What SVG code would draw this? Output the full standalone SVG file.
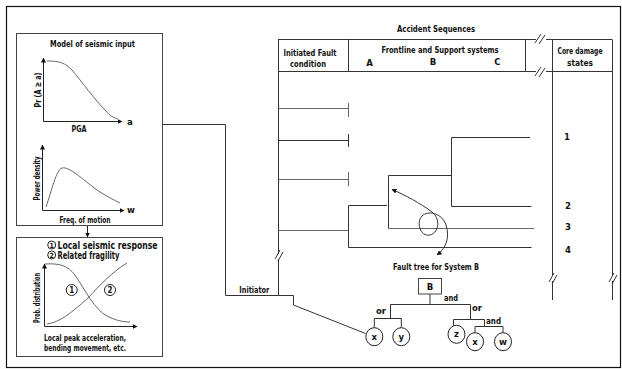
<svg xmlns="http://www.w3.org/2000/svg" width="622" height="369" viewBox="0 0 622 369">
<defs>
<marker id="ah" viewBox="0 0 10 10" refX="9" refY="5" markerWidth="5" markerHeight="5" orient="auto-start-reverse" markerUnits="userSpaceOnUse">
<path d="M0,0 L10,5 L0,10 z" fill="#111"/>
</marker>
<style>
.t{font-family:"Liberation Sans Narrow","DejaVu Sans Condensed","Liberation Sans",sans-serif;font-weight:bold;font-size:9.5px;fill:#111}
.m{text-anchor:middle}
.ln{fill:none;stroke:#333;stroke-width:1}
.lg{fill:none;stroke:#666;stroke-width:1}
.bx{fill:#fff;stroke:#444;stroke-width:1}
.cr{fill:#fff;stroke:#222;stroke-width:1}
.ax{fill:none;stroke:#222;stroke-width:1}
</style>
</defs>
<rect x="0" y="0" width="622" height="369" fill="#fff"/>
<rect x="6.5" y="6.5" width="614" height="361" fill="none" stroke="#111" stroke-width="1.2"/>

<g id="seismic-input">
<rect class="bx" x="16.5" y="33.5" width="146" height="192"/>
<text class="t m" x="92.5" y="46.5" textLength="85" lengthAdjust="spacingAndGlyphs">Model of seismic input</text>
<path class="ax" d="M43.5,121.5 V58" marker-end="url(#ah)"/>
<path class="ax" d="M43.5,121.5 H122" marker-end="url(#ah)"/>
<path class="lg" d="M47,61 C60,61 65,63 72,70 C82,82 95,100 105,110 C110,116 114,118 118,119"/>
<text class="t" x="127" y="125">a</text>
<text class="t m" x="79" y="132" textLength="15" lengthAdjust="spacingAndGlyphs">PGA</text>
<text class="t m" transform="translate(40.5,90) rotate(-90)" textLength="35" lengthAdjust="spacingAndGlyphs">Pr (A ≥ a)</text>
<path class="ax" d="M42.5,210.5 V145" marker-end="url(#ah)"/>
<path class="ax" d="M42.5,210.5 H124" marker-end="url(#ah)"/>
<path class="lg" d="M46,207 C52,190 56,170 62,168 C70,166 85,182 100,192 C108,197 114,200 120,203"/>
<text class="t" x="127" y="213">w</text>
<text class="t m" x="85" y="222.5" textLength="51" lengthAdjust="spacingAndGlyphs">Freq. of motion</text>
<text class="t m" transform="translate(40,178.5) rotate(-90)" textLength="44" lengthAdjust="spacingAndGlyphs">Power density</text>
</g>

<g id="fragility">
<rect class="bx" x="16.5" y="237.5" width="146" height="119"/>
<circle class="cr" cx="51.7" cy="245" r="4"/>
<text class="t m" x="51.7" y="247.6" style="font-size:7px">1</text>
<text class="t" x="57.5" y="248.5" textLength="100" lengthAdjust="spacingAndGlyphs" style="font-size:10px">Local seismic response</text>
<circle class="cr" cx="51.7" cy="255" r="4"/>
<text class="t m" x="51.7" y="257.6" style="font-size:7px">2</text>
<text class="t" x="57.5" y="258.5" textLength="62" lengthAdjust="spacingAndGlyphs" style="font-size:10px">Related fragility</text>
<path class="ax" d="M44.5,326.5 V264" marker-end="url(#ah)"/>
<path class="ax" d="M44.5,326.5 H137" marker-end="url(#ah)"/>
<path class="lg" d="M45,264 C60,263 68,266 75,275 C85,290 95,310 107,316 C115,320 122,322 130,322"/>
<path class="lg" d="M47,324 C60,322 70,314 88,298 C100,285 112,272 127,263"/>
<circle class="cr" cx="71.7" cy="290" r="5.5" fill="none"/>
<text class="t m" x="71.7" y="293" style="font-size:8px">1</text>
<circle class="cr" cx="110" cy="290" r="5.5" fill="none"/>
<text class="t m" x="110" y="293" style="font-size:8px">2</text>
<text class="t m" transform="translate(39.5,298) rotate(-90)" textLength="50" lengthAdjust="spacingAndGlyphs">Prob. distribution</text>
<text class="t m" x="85" y="340.5" textLength="82" lengthAdjust="spacingAndGlyphs">Local peak acceleration,</text>
<text class="t m" x="85" y="350.5" textLength="82" lengthAdjust="spacingAndGlyphs">bending movement, etc.</text>
</g>

<g id="event-tree">
<text class="t m" x="436" y="31.5" textLength="78" lengthAdjust="spacingAndGlyphs">Accident Sequences</text>
<text class="t m" x="310" y="55.5" textLength="53" lengthAdjust="spacingAndGlyphs">Initiated Fault</text>
<text class="t m" x="308" y="66.5" textLength="36" lengthAdjust="spacingAndGlyphs">condition</text>
<text class="t m" x="440" y="53" textLength="117" lengthAdjust="spacingAndGlyphs">Frontline and Support systems</text>
<text class="t m" x="369.5" y="65.5">A</text>
<text class="t m" x="433" y="64.5">B</text>
<text class="t m" x="497.5" y="65">C</text>
<text class="t m" x="580" y="54" textLength="45" lengthAdjust="spacingAndGlyphs">Core damage</text>
<text class="t m" x="580" y="66" textLength="26" lengthAdjust="spacingAndGlyphs">states</text>
<text class="t m" x="567" y="140">1</text>
<text class="t m" x="568" y="208.5">2</text>
<text class="t m" x="568" y="230">3</text>
<text class="t m" x="568" y="252.5">4</text>
</g>

<g id="fault-tree">
<text class="t m" x="436" y="269.5" textLength="86" lengthAdjust="spacingAndGlyphs">Fault tree for System B</text>
<rect class="bx" x="418.5" y="278.5" width="23" height="15.5"/>
<text class="t m" x="430" y="289.5">B</text>
<text class="t" x="376" y="313.5">or</text>
<text class="t" x="444" y="301" textLength="14" lengthAdjust="spacingAndGlyphs">and</text>
<text class="t" x="472" y="311">or</text>
<text class="t" x="486" y="323.5" textLength="15" lengthAdjust="spacingAndGlyphs">and</text>
<ellipse class="cr" cx="374.3" cy="336.7" rx="8.5" ry="9"/>
<text class="t m" x="374.3" y="339.5">x</text>
<ellipse class="cr" cx="401.3" cy="336.7" rx="8.5" ry="9"/>
<text class="t m" x="401.3" y="339.5">y</text>
<ellipse class="cr" cx="456.5" cy="334.3" rx="8.5" ry="9"/>
<text class="t m" x="456.5" y="337.3">z</text>
<ellipse class="cr" cx="475" cy="341.7" rx="8.5" ry="9"/>
<text class="t m" x="475" y="344.7">x</text>
<ellipse class="cr" cx="503" cy="341.7" rx="8.5" ry="9"/>
<text class="t m" x="503" y="344.7">w</text>
</g>

<g id="initiator-label">
<text class="t m" x="254.3" y="292.5" textLength="30" lengthAdjust="spacingAndGlyphs">Initiator</text>
</g>

<g id="connectors">
<path class="ax" d="M87.5,226 V237" marker-end="url(#ah)"/>
<path class="ln" d="M163,124.5 H225.5 V295.5 H293.5 V305 L365.5,333.5"/>
<path class="ln" d="M278,39.5 H536 M546,39.5 H612"/>
<path class="ln" d="M535,43 L541,34 M539,44 L545,35"/>
<path class="ln" d="M278,71.5 H536 M546,71.5 H612"/>
<path class="ln" d="M535,76 L541,67 M539,77 L545,68"/>
<path class="ln" d="M348.5,39.5 V71.5 M525.5,39.5 V71.5"/>
<path class="ln" d="M278.5,39.5 V254 M278.5,259 V295.5"/>
<path class="ln" d="M275,259 L280,250 M278,261 L283,252"/>
<path class="ln" d="M552.5,39.5 V275 M552.5,281 V300"/>
<path class="ln" d="M549,282 L554,273 M552,284 L557,275"/>
<path class="ln" d="M612.5,39.5 V275 M612.5,281 V300"/>
<path class="ln" d="M609,282 L614,273 M612,284 L617,275"/>
<path class="lg" d="M278.5,108.5 H348.5 M348.5,103 V117"/>
<path class="ln" d="M278.5,140.5 H348.5 M348.5,134 V147"/>
<path class="lg" d="M278.5,179.5 H348.5 M348.5,172 V186"/>
<path class="lg" d="M278.5,230.5 H348.5"/>
<path class="ln" d="M348.5,205.5 V247.5 M348.5,205.5 H387"/>
<path class="ln" d="M388.5,175.5 V228.5 M388.5,175.5 H451.5"/>
<path class="ln" d="M451.5,137.5 V206.5 M451.5,137.5 H530 M451.5,206.5 H531.5"/>
<path class="lg" d="M388.5,228.5 H534"/>
<path class="ln" d="M348.5,247.5 H531.5"/>
<path class="ln" d="M432,212 C420,203 405,195 392,189.5" marker-end="url(#ah)"/>
<path class="ln" d="M432,212 C440,218 440,232 430,235 C420,237 416,222 422,216 C428,210 442,213 446,225 C450,238 446,248 437,255" marker-end="url(#ah)"/>
<path class="ln" d="M430,294 V304.5 M390.5,304.5 H470.5"/>
<path class="ln" d="M390.5,304.5 V318.5 M374.3,318.5 H401.3 M374.3,318.5 V327.7 M401.3,318.5 V327.7"/>
<path class="ln" d="M470.5,304.5 V319.5 M453.5,319.5 H484.5 M453.5,319.5 V325.8 M484.5,319.5 V326.5"/>
<path class="ln" d="M475,326.5 H503 M475,326.5 V332.7 M503,326.5 V332.7"/>
</g>
</svg>
